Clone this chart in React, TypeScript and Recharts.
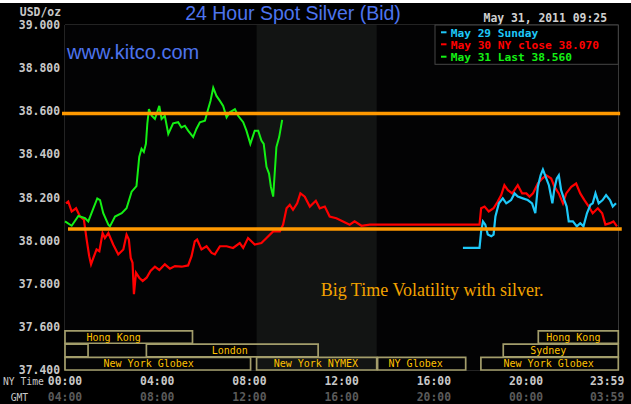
import React from 'react';
import {
  ComposedChart,
  Line,
  XAxis,
  YAxis,
  CartesianGrid,
  ReferenceArea,
  ReferenceLine,
  ReferenceDot,
} from 'recharts';

// NY time in hours, price in USD/oz
const may29Sunday: [number, number][] = [
  [17.26, 37.966], [17.98, 37.966], [18.05, 38.043], [18.13, 38.089], [18.23, 38.074],
  [18.34, 38.028], [18.49, 38.02], [18.59, 38.028], [18.67, 38.112], [18.82, 38.173],
  [18.99, 38.196], [19.14, 38.173], [19.35, 38.188], [19.5, 38.219], [19.64, 38.204],
  [19.86, 38.196], [20.07, 38.188], [20.26, 38.173], [20.4, 38.127], [20.51, 38.25],
  [20.63, 38.303], [20.73, 38.33], [20.85, 38.296], [20.99, 38.257], [21.14, 38.173],
  [21.23, 38.242], [21.33, 38.288], [21.42, 38.303], [21.52, 38.234], [21.66, 38.188],
  [21.76, 38.158], [21.85, 38.089], [22.03, 38.089], [22.2, 38.066], [22.35, 38.081],
  [22.49, 38.066], [22.64, 38.127], [22.79, 38.166], [22.89, 38.173], [23.01, 38.219],
  [23.15, 38.173], [23.32, 38.188], [23.47, 38.211], [23.64, 38.188], [23.76, 38.158],
  [23.9, 38.173],
];

const may30Close: [number, number][] = [
  [0.04, 38.173], [0.14, 38.181], [0.29, 38.135], [0.48, 38.15], [0.65, 38.112],
  [0.82, 38.097], [0.94, 38.005], [1.05, 37.928], [1.13, 37.89], [1.23, 37.92],
  [1.37, 37.959], [1.49, 37.951], [1.63, 38.035], [1.73, 38.012], [1.88, 38.035],
  [2.09, 37.982], [2.31, 37.936], [2.53, 37.959], [2.67, 38.028], [2.77, 38.005],
  [2.85, 37.92], [2.93, 37.897], [2.99, 37.752], [3.08, 37.851], [3.22, 37.828],
  [3.37, 37.813], [3.54, 37.828], [3.71, 37.859], [3.9, 37.879], [4.09, 37.864],
  [4.33, 37.89], [4.55, 37.87], [4.77, 37.882], [5.06, 37.879], [5.34, 37.885],
  [5.49, 37.928], [5.63, 37.997], [5.73, 38.005], [5.92, 37.959], [6.14, 37.974],
  [6.36, 37.943], [6.5, 37.936], [6.72, 37.974], [7.01, 37.974], [7.29, 37.966],
  [7.58, 37.989], [7.73, 37.966], [7.94, 38.012], [8.23, 37.982], [8.52, 37.989],
  [8.74, 38.012], [9.03, 38.043], [9.32, 38.043], [9.46, 38.074], [9.61, 38.15],
  [9.75, 38.166], [9.89, 38.143], [10.07, 38.173], [10.21, 38.219], [10.4, 38.204],
  [10.62, 38.158], [10.88, 38.185], [11.05, 38.15], [11.27, 38.158], [11.48, 38.112],
  [11.77, 38.104], [12.06, 38.089], [12.35, 38.074], [12.56, 38.089], [12.86, 38.069],
  [13.22, 38.074], [17.98, 38.074], [18.05, 38.15], [18.2, 38.158], [18.38, 38.135],
  [18.59, 38.15], [18.77, 38.181], [18.92, 38.211], [19.06, 38.257], [19.21, 38.234],
  [19.4, 38.219], [19.64, 38.257], [19.83, 38.219], [20.01, 38.219], [20.15, 38.204],
  [20.3, 38.219], [20.51, 38.265], [20.7, 38.288], [20.88, 38.303], [21.09, 38.288],
  [21.23, 38.25], [21.42, 38.219], [21.6, 38.173], [21.74, 38.219], [21.96, 38.25],
  [22.17, 38.265], [22.35, 38.219], [22.53, 38.188], [22.72, 38.158], [22.89, 38.127],
  [23.11, 38.15], [23.3, 38.127], [23.44, 38.074], [23.64, 38.081], [23.79, 38.089],
  [23.94, 38.066],
];

const may31Last: [number, number][] = [
  [0, 38.089], [0.29, 38.069], [0.58, 38.115], [0.87, 38.104], [1.01, 38.089],
  [1.23, 38.15], [1.4, 38.196], [1.52, 38.188], [1.66, 38.127], [1.88, 38.074],
  [1.95, 38.066], [2.17, 38.112], [2.46, 38.127], [2.67, 38.15], [2.89, 38.227],
  [3.1, 38.253], [3.22, 38.388], [3.32, 38.426], [3.42, 38.411], [3.51, 38.449],
  [3.57, 38.541], [3.64, 38.61], [3.76, 38.579], [3.9, 38.564], [4.09, 38.625],
  [4.19, 38.564], [4.33, 38.579], [4.48, 38.495], [4.69, 38.544], [4.91, 38.549],
  [5.05, 38.525], [5.2, 38.533], [5.34, 38.51], [5.56, 38.48], [5.7, 38.518],
  [5.85, 38.549], [6.07, 38.556], [6.21, 38.61], [6.31, 38.648], [6.43, 38.709],
  [6.57, 38.671], [6.72, 38.648], [6.86, 38.625], [7.01, 38.572], [7.15, 38.595],
  [7.37, 38.61], [7.51, 38.579], [7.73, 38.549], [7.87, 38.51], [8.04, 38.449],
  [8.23, 38.51], [8.38, 38.51], [8.52, 38.464], [8.62, 38.449], [8.74, 38.342],
  [8.85, 38.311], [8.93, 38.25], [9.03, 38.204], [9.17, 38.434], [9.29, 38.48],
  [9.42, 38.56],
];

const yTicks = [37.4, 37.6, 37.8, 38.0, 38.2, 38.4, 38.6, 38.8, 39.0];
const xGridHours = [0, 2, 4, 6, 8, 10, 12, 14, 16, 18, 20, 22, 24];
const labelHours = [0, 4, 8, 12, 16, 20, 24];
const nyLabels = ['00:00', '04:00', '08:00', '12:00', '16:00', '20:00', '23:59'];
const gmtLabels = ['04:00', '08:00', '12:00', '16:00', '20:00', '00:00', '03:59'];

const upperLevel = 38.59;
const lowerLevel = 38.054;

// trading sessions along the bottom
const bandNames = ['Hong Kong', '', 'London', 'New York Globex', 'New York NYMEX', 'NY Globex', 'New York Globex', 'Sydney', 'Hong Kong'];
const bandFrom = [0, 0, 3.53, 0, 8.31, 13.56, 18.04, 19.01, 20.53];
const bandTo = [5.53, 1.0, 10.98, 8.05, 13.52, 17.38, 24, 24, 24];
const bandRow = [0, 1, 1, 2, 2, 2, 2, 1, 0];
const bandLabelAt = [2.11, 0, 7.15, 3.63, 10.88, 15.21, 20.98, 20.96, 22.05];

const rowTop = [37.581, 37.52, 37.459];
const rowBottom = [37.524, 37.461, 37.4];

const toPoints = (rows: [number, number][]) => rows.map(([h, v]) => ({ h, v }));

const MONO = 'DejaVu Sans Mono';

function XTick(props: any) {
  const { x, y, payload } = props;
  const i = labelHours.indexOf(payload.value);
  if (i < 0) return <g />;
  const last = i === labelHours.length - 1;
  const tx = last ? x + 6 : x;
  const anchor = last ? 'end' : 'middle';
  return (
    <g fontFamily={MONO} fontWeight="bold" fontSize={11.4}>
      <text x={tx} y={y + 15} textAnchor={anchor} fill="#c8c8c8">{nyLabels[i]}</text>
      <text x={tx} y={y + 31} textAnchor={anchor} fill="#5a5a5a">{gmtLabels[i]}</text>
    </g>
  );
}

export default function App() {
  const bandText = { fill: '#ffc200', fontFamily: MONO, fontSize: 10 };
  return (
    <div style={{ position: 'fixed', left: 0, top: 0, width: 631, height: 404, background: '#000' }}>
      <ComposedChart width={631} height={404} margin={{ top: 25, right: 12.7, left: 0, bottom: 0 }}>
        <rect x={65} y={25} width={553} height={345} fill="#030304" />
        <ReferenceArea x1={8.31} x2={13.52} y1={37.4} y2={39.0} fill="rgb(190,210,190)" fillOpacity={0.085} stroke="none" />
        <CartesianGrid stroke="#474747" strokeWidth={1} />
        <XAxis
          type="number"
          dataKey="h"
          domain={[0, 24]}
          ticks={xGridHours}
          axisLine={false}
          tickLine={false}
          tickSize={0}
          tickMargin={0}
          height={34}
          interval={0}
          tick={(p: any) => <XTick {...p} />}
        />
        <YAxis
          type="number"
          dataKey="v"
          domain={[37.4, 39.0]}
          ticks={yTicks}
          axisLine={false}
          tickLine={false}
          tickSize={0}
          tickMargin={5}
          width={65}
          interval={0}
          tickFormatter={(v: number) => v.toFixed(3)}
          tick={{ fill: '#c8c8c8', fontFamily: MONO, fontWeight: 'bold', fontSize: 11.4 }}
        />
        {bandNames.map((name, i) => (
          <ReferenceArea
            key={'band' + i}
            x1={bandFrom[i]}
            x2={bandTo[i]}
            y1={rowBottom[bandRow[i]]}
            y2={rowTop[bandRow[i]]}
            fill="none"
            stroke="#a39d6b"
            strokeWidth={1.7}
          />
        ))}
        {bandNames.map((name, i) =>
          name ? (
            <ReferenceDot
              key={'lab' + i}
              x={bandLabelAt[i]}
              y={(rowTop[bandRow[i]] + rowBottom[bandRow[i]]) / 2}
              r={0}
              fill="none"
              stroke="none"
              label={{ value: name, position: 'center', ...bandText }}
            />
          ) : null
        )}
        <Line data={toPoints(may30Close)} dataKey="v" type="linear" stroke="#ff0000" strokeWidth={2.2} dot={false} isAnimationActive={false} />
        <Line data={toPoints(may29Sunday)} dataKey="v" type="linear" stroke="#1ec8f8" strokeWidth={2.2} dot={false} isAnimationActive={false} />
        <Line data={toPoints(may31Last)} dataKey="v" type="linear" stroke="#14f014" strokeWidth={2} dot={false} isAnimationActive={false} />
        <ReferenceLine
          segment={[{ x: -0.13, y: upperLevel }, { x: 24.08, y: upperLevel }]}
          stroke="#ff9900"
          strokeWidth={3.5}
          ifOverflow="visible"
        />
        <ReferenceLine
          segment={[{ x: 0.13, y: lowerLevel }, { x: 24.15, y: lowerLevel }]}
          stroke="#ff9900"
          strokeWidth={3.5}
          ifOverflow="visible"
        />
      </ComposedChart>
      <svg width={631} height={404} style={{ position: 'absolute', left: 0, top: 0, pointerEvents: 'none' }}>
        <rect x={0} y={0} width={631} height={3} fill="#fff" />
        <text x={293} y={20} textAnchor="middle" fontFamily="Liberation Sans" fontSize={19.5} fill="#4d74ee">
          24 Hour Spot Silver (Bid)
        </text>
        <text x={67} y={59.3} fontFamily="Liberation Sans" fontSize={20} fill="#4d74ee">www.kitco.com</text>
        <text x={61} y={15.9} textAnchor="end" fontFamily={MONO} fontWeight="bold" fontSize={11.4} fill="#c8c8c8">USD/oz</text>
        <text x={607} y={21.5} textAnchor="end" fontFamily={MONO} fontWeight="bold" fontSize={11.4} fill="#d0d0d0">
          May 31, 2011 09:25
        </text>
        <rect x={435} y={25} width={183.3} height={39.3} fill="#000" stroke="#474747" strokeWidth={1} />
        <g fontFamily={MONO} fontWeight="bold" fontSize={11.2}>
          <rect x={441} y={31.3} width={5.5} height={2} fill="#1ec8f8" />
          <text x={450.7} y={36.5} fill="#1ec8f8">May 29 Sunday</text>
          <rect x={441} y={43.3} width={5.5} height={2} fill="#ff0000" />
          <text x={450.7} y={48.5} fill="#ff0000">May 30 NY close 38.070</text>
          <rect x={441} y={55.7} width={5.5} height={2} fill="#14f014" />
          <text x={450.7} y={61} fill="#14f014">May 31 Last 38.560</text>
        </g>
        <text x={320.7} y={296} fontFamily="Liberation Serif" fontSize={18} fill="#f2a200">
          Big Time Volatility with silver.
        </text>
        <text x={3} y={384.5} fontFamily={MONO} fontSize={9.7} fill="#c8c8c8">NY Time</text>
        <text x={10.7} y={400.5} fontFamily={MONO} fontSize={9.7} fill="#c8c8c8">GMT</text>
      </svg>
    </div>
  );
}
